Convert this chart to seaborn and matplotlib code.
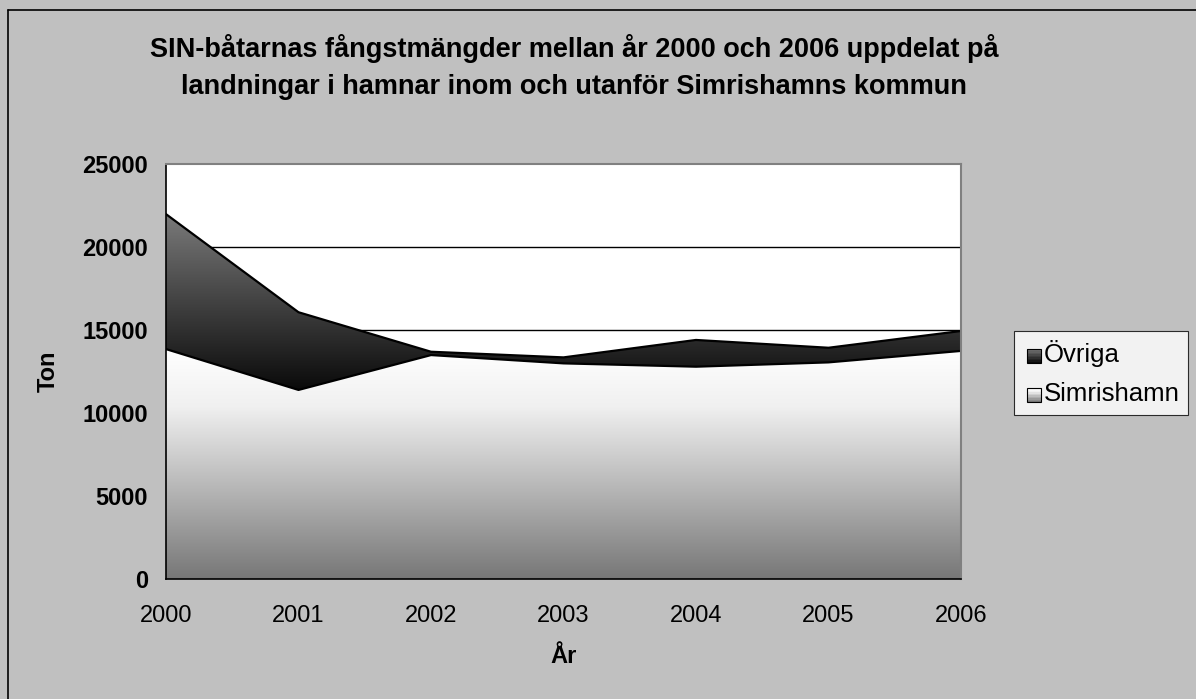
import numpy as np
import pandas as pd
import matplotlib
matplotlib.use("Agg")
import matplotlib.pyplot as plt
import seaborn as sns
from matplotlib.colors import LinearSegmentedColormap
from matplotlib.patches import Rectangle
from matplotlib.legend_handler import HandlerBase

# Data (ton)
years = [2000, 2001, 2002, 2003, 2004, 2005, 2006]
simrishamn = [13850, 11390, 13490, 12990, 12790, 13050, 13740]
ovriga = [8130, 4680, 200, 360, 1610, 880, 1200]
labels = ["Övriga", "Simrishamn"]

df = pd.DataFrame({"År": years, "Simrishamn": simrishamn, "Övriga": ovriga})
df["Totalt"] = df["Simrishamn"] + df["Övriga"]

sns.set_style("white")
plt.rcParams["font.family"] = ["Liberation Sans", "DejaVu Sans"]
plt.rcParams["text.color"] = "black"
plt.rcParams["xtick.color"] = "black"
plt.rcParams["ytick.color"] = "black"
plt.rcParams["axes.labelcolor"] = "black"

bg = "#c0c0c0"
fig = plt.figure(figsize=(11.96, 6.99), dpi=100, facecolor=bg)
ax = fig.add_axes([166 / 1196, 1 - 579 / 699, 795 / 1196, 415 / 699])
ax.set_facecolor("white")

# gradient colour maps
cmap_sim = LinearSegmentedColormap.from_list("sim", [(0, "#ffffff"), (0.25, "#f0f0f0"), (1, "#777777")])
cmap_ovr = LinearSegmentedColormap.from_list("ovr", ["#7a7a7a", "#0a0a0a"])


def gradient_fill(x, y1, y2, cmap, top, bottom, z):
    poly = ax.fill_between(x, y1, y2, facecolor="none", edgecolor="none", zorder=z)
    grad = np.linspace(0, 1, 256).reshape(-1, 1)
    im = ax.imshow(grad, cmap=cmap, aspect="auto", origin="upper",
                   extent=[x.min(), x.max(), bottom, top], zorder=z)
    im.set_clip_path(poly.get_paths()[0], transform=ax.transData)


x = df["År"].to_numpy(dtype=float)
gradient_fill(x, 0, df["Simrishamn"], cmap_sim, df["Simrishamn"].max(), 0, 2)
gradient_fill(x, df["Simrishamn"], df["Totalt"], cmap_ovr,
              df["Totalt"].max(), df["Simrishamn"].min(), 2)

# outlines
sns.lineplot(data=df, x="År", y="Simrishamn", color="black", lw=1.6, ax=ax, zorder=3)
sns.lineplot(data=df, x="År", y="Totalt", color="black", lw=1.6, ax=ax, zorder=3)

ax.set_xlim(2000, 2006)
ax.set_ylim(0, 25000)
ax.set_yticks(range(0, 25001, 5000))
ax.set_xticks(years)
ax.set_xticklabels([str(y) for y in years], fontsize=17)
ax.set_yticklabels([str(v) for v in range(0, 25001, 5000)], fontsize=17, fontweight="bold")
for v in [15000, 20000]:
    ax.axhline(v, color="black", lw=1, zorder=1)

ax.tick_params(axis="both", direction="out", length=6, width=1, color="black", pad=7)
ax.tick_params(axis="x", pad=13)
for side in ["left", "bottom"]:
    ax.spines[side].set_color("black")
    ax.spines[side].set_linewidth(1.2)
for side in ["top", "right"]:
    ax.spines[side].set_color("#808080")
    ax.spines[side].set_linewidth(1.5)
for s in ax.spines.values():
    s.set_zorder(5)

ax.set_xlabel("År", fontsize=17, fontweight="bold", labelpad=13)
ax.set_ylabel("Ton", fontsize=17, fontweight="bold", labelpad=16)

fig.text(574 / 1196, 1 - 67 / 699,
         "SIN-båtarnas fångstmängder mellan år 2000 och 2006 uppdelat på\n"
         "landningar i hamnar inom och utanför Simrishamns kommun",
         ha="center", va="center", fontsize=19.5, fontweight="bold", linespacing=1.55)


class GradHandler(HandlerBase):
    def __init__(self, cmap):
        super().__init__()
        self.cmap = cmap

    def create_artists(self, legend, orig_handle, xdescent, ydescent, width, height, fontsize, trans):
        arts = []
        n = 10
        s = height * 0.8
        x0 = xdescent + width - s
        y0 = -ydescent + (height - s) / 2 - 2
        for i in range(n):
            c = self.cmap(i / (n - 1))
            arts.append(Rectangle((x0, y0 + s - (i + 1) * s / n), s, s / n,
                                  facecolor=c, edgecolor="none", transform=trans))
        arts.append(Rectangle((x0, y0), s, s, facecolor="none",
                              edgecolor="black", lw=0.8, transform=trans))
        return arts


h_ovr = Rectangle((0, 0), 1, 1)
h_sim = Rectangle((0, 0), 1, 1)
leg = fig.legend([h_ovr, h_sim], labels,
                 handler_map={h_ovr: GradHandler(cmap_ovr), h_sim: GradHandler(cmap_sim)},
                 loc="upper left", bbox_to_anchor=(1014 / 1196, 1 - 331 / 699),
                 fontsize=18.5, frameon=True, fancybox=False, handlelength=0.7,
                 handletextpad=0.1, borderpad=0.35, labelspacing=0.6, borderaxespad=0)
leg.get_frame().set_edgecolor("black")
leg.get_frame().set_linewidth(0.8)
leg.get_frame().set_facecolor("white")

# outer chart border (left and top visible)
fig.add_artist(plt.Line2D([8 / 1196, 8 / 1196], [0, 1 - 10 / 699], color="black", lw=1.2,
                          transform=fig.transFigure))
fig.add_artist(plt.Line2D([8 / 1196, 1], [1 - 10 / 699, 1 - 10 / 699], color="black", lw=1.2,
                          transform=fig.transFigure))

fig.savefig("out.png", dpi=100, facecolor=bg)
